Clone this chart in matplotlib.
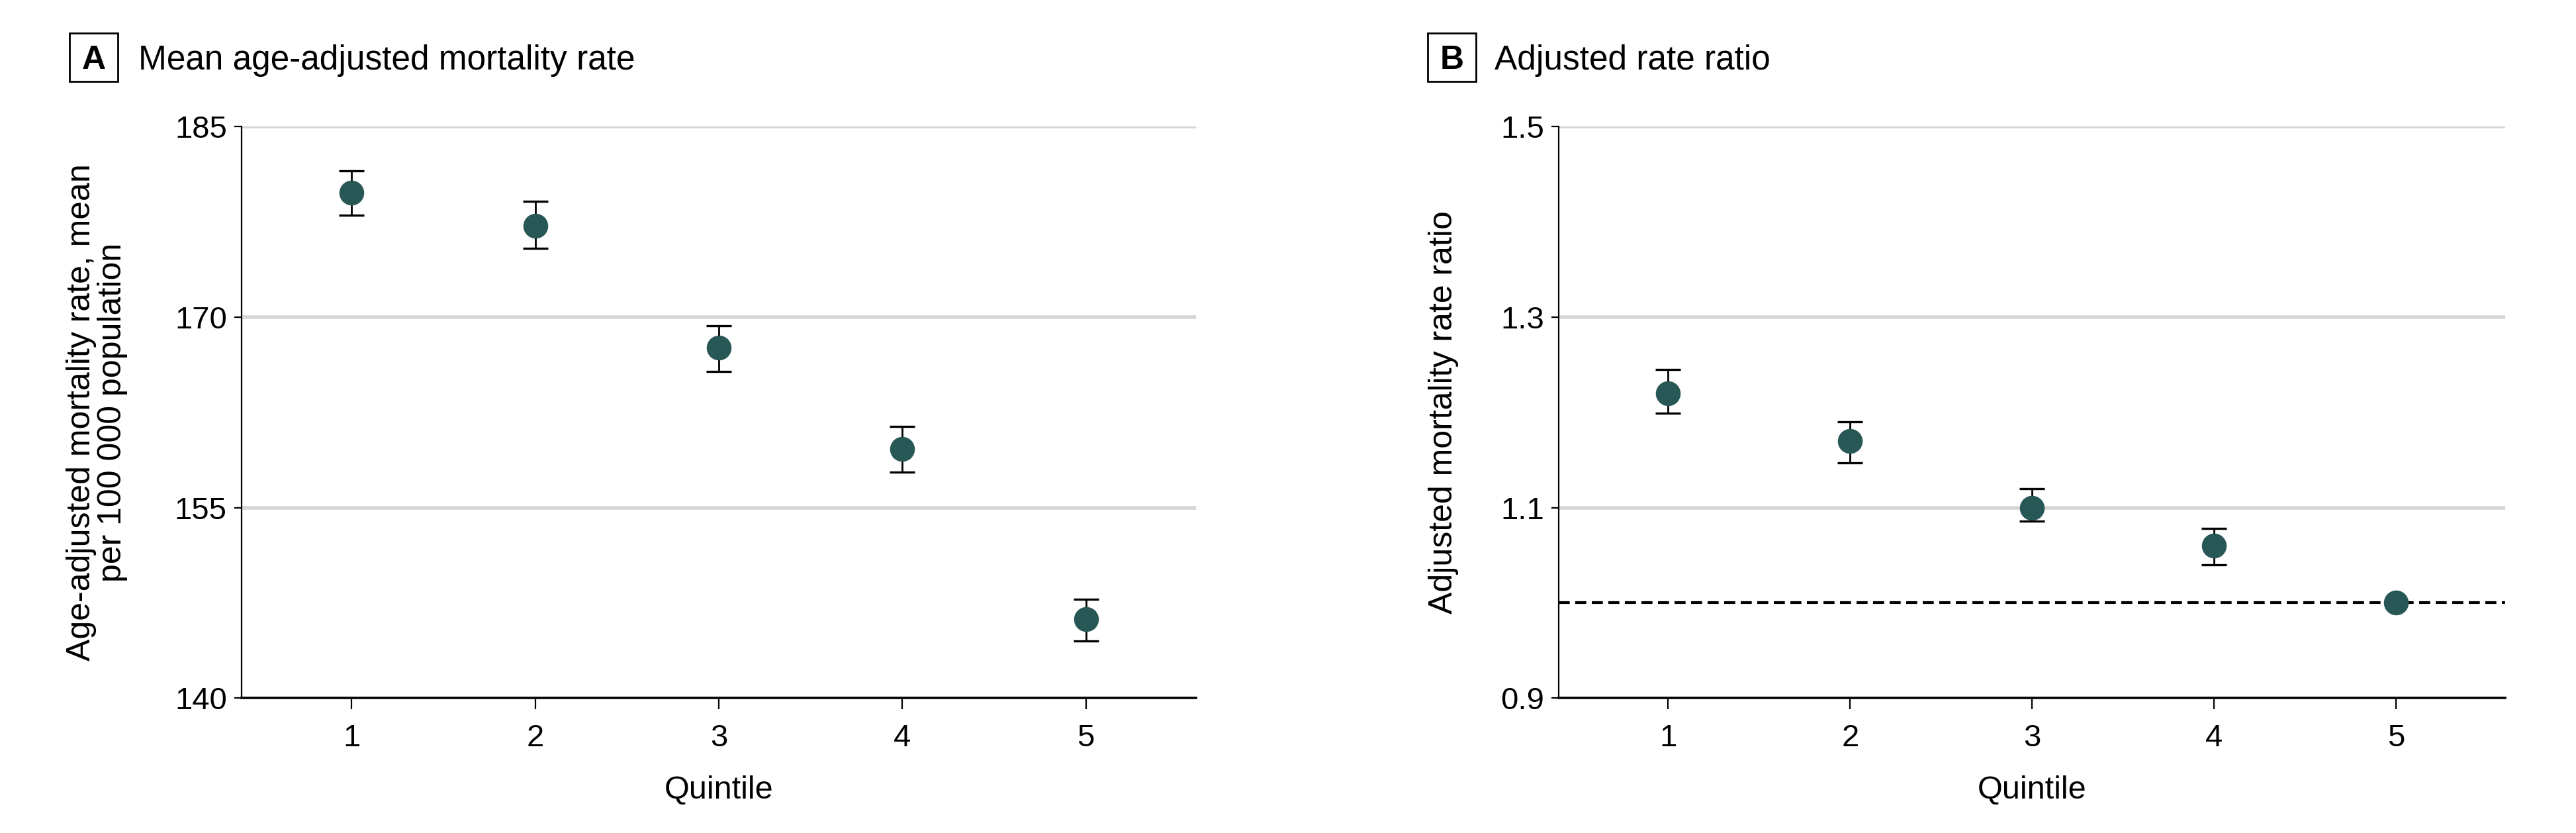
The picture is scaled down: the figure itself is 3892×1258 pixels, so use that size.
import matplotlib
matplotlib.use("Agg")
import matplotlib.pyplot as plt
from matplotlib.patches import Rectangle

plt.rcParams['font.family'] = ['Liberation Sans', 'DejaVu Sans']

# data
quintiles = [1, 2, 3, 4, 5]

# Panel A: mean age-adjusted mortality rate per 100 000
mean_rate = [179.8, 177.2, 167.6, 159.6, 146.2]
mean_lo = [178.0, 175.4, 165.7, 157.8, 144.5]
mean_hi = [181.5, 179.1, 169.3, 161.4, 147.8]

# Panel B: adjusted rate ratio (quintile 5 is the reference)
ratio = [1.22, 1.17, 1.10, 1.06, 1.00]
ratio_lo = [1.199, 1.147, 1.086, 1.040, 1.00]
ratio_hi = [1.245, 1.190, 1.120, 1.078, 1.00]

a_ticks = [140, 155, 170, 185]
b_ticks = [0.9, 1.1, 1.3, 1.5]

teal = '#285856'
grid_col = '#d6d6d6'


def style_axes(ax, yticks, ylim):
    ax.set_xlim(0.4, 5.6)
    ax.set_ylim(*ylim)
    ax.set_xticks(quintiles)
    ax.set_yticks(yticks)
    ax.tick_params(axis='x', length=6, width=0.8, labelsize=17, pad=8)
    ax.tick_params(axis='y', length=4, width=0.8, labelsize=17, pad=4)
    for s in ['top', 'right']:
        ax.spines[s].set_visible(False)
    ax.spines['left'].set_linewidth(0.8)
    ax.spines['bottom'].set_linewidth(1.3)
    for t in yticks[1:]:
        ax.axhline(t, color=grid_col, lw=2.0, zorder=0)
    ax.set_xlabel('Quintile', fontsize=17.5)
    ax.xaxis.set_label_coords(0.5, -0.135)


def draw_points(ax, y, lo, hi):
    yerr = [[v - l for v, l in zip(y, lo)], [h - v for v, h in zip(y, hi)]]
    ax.errorbar(quintiles, y, yerr=yerr, fmt='none', ecolor='black',
                elinewidth=1.0, capsize=7, capthick=1.2, zorder=3)
    ax.plot(quintiles, y, 'o', color=teal, markersize=12.5, zorder=4)


fig = plt.figure(figsize=(19.46, 6.29), dpi=200)
axA = fig.add_axes([0.0938, 0.162, 0.3705, 0.686])
axB = fig.add_axes([0.6052, 0.162, 0.3674, 0.686])

# panel A
style_axes(axA, a_ticks, (140, 185))
draw_points(axA, mean_rate, mean_lo, mean_hi)
axA.set_ylabel('Age-adjusted mortality rate, mean\nper 100 000 population',
               fontsize=18, linespacing=1.05)
axA.yaxis.set_label_coords(-0.119, 0.5)

# panel B
style_axes(axB, b_ticks, (0.9, 1.5))
axB.set_yticklabels(['0.9', '1.1', '1.3', '1.5'])
axB.axhline(1.0, color='black', lw=1.5, ls=(0, (4, 2)), zorder=2)
ratio_err_lo = [r - l for r, l in zip(ratio, ratio_lo)]
ratio_err_hi = [h - r for r, h in zip(ratio, ratio_hi)]
# reference quintile has no interval
axB.errorbar(quintiles[:4], ratio[:4], yerr=[ratio_err_lo[:4], ratio_err_hi[:4]],
             fmt='none', ecolor='black', elinewidth=1.0, capsize=7, capthick=1.2, zorder=3)
axB.plot(quintiles, ratio, 'o', color=teal, markersize=12.5, zorder=4)
axB.set_ylabel('Adjusted mortality rate ratio', fontsize=18)
axB.yaxis.set_label_coords(-0.106, 0.5)

# panel titles with boxed letters
for letter, bx, tx, title in [('A', 0.0270, 0.0537, 'Mean age-adjusted mortality rate'),
                              ('B', 0.5542, 0.5802, 'Adjusted rate ratio')]:
    fig.patches.append(Rectangle((bx, 0.9022), 0.01876, 0.058, transform=fig.transFigure,
                                 fill=False, edgecolor='black', lw=1.0))
    fig.text(bx + 0.00938, 0.917, letter, fontsize=18, fontweight='bold',
             ha='center', va='baseline')
    fig.text(tx, 0.9165, title, fontsize=18.5, ha='left', va='baseline')

fig.savefig('out.png', dpi=200, facecolor='white')
